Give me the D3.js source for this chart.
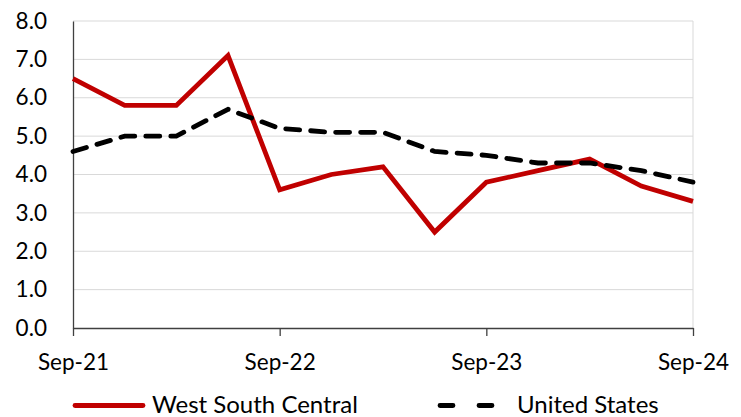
<!DOCTYPE html>
<html><head><meta charset="utf-8">
<script src="https://cdn.jsdelivr.net/npm/d3@7"></script>
<style>body{margin:0;background:#fff}svg{display:block}text{font-family:Lato,"Open Sans",sans-serif;fill:#000}</style>
</head><body><svg id="c" width="741" height="417"></svg>
<script>
const quarters = ["Sep-21","Dec-21","Mar-22","Jun-22","Sep-22","Dec-22","Mar-23","Jun-23","Sep-23","Dec-23","Mar-24","Jun-24","Sep-24"];
const westSouthCentral = [6.5,5.8,5.8,7.1,3.6,4.0,4.2,2.5,3.8,4.1,4.4,3.7,3.3];
const unitedStates = [4.6,5.0,5.0,5.7,5.2,5.1,5.1,4.6,4.5,4.3,4.3,4.1,3.8];
const xTickLabels = ["Sep-21","Sep-22","Sep-23","Sep-24"];
const yTicks = [0,1,2,3,4,5,6,7,8];

const svg = d3.select("#c");
const L=73,R=693,T=21,B=328;
const FS = 22.5;
const x = d3.scalePoint().domain(quarters).range([L,R]);
const y = d3.scaleLinear().domain([0,8]).range([B,T]);

// gridlines
svg.append("g").selectAll("line").data(yTicks.filter(d=>d>0)).join("line")
  .attr("x1",L).attr("x2",R).attr("y1",d=>y(d)).attr("y2",d=>y(d))
  .attr("stroke","#d9d9d9").attr("stroke-width",1);
svg.append("line").attr("x1",R).attr("x2",R).attr("y1",T).attr("y2",B).attr("stroke","#d9d9d9");

// y axis
const ya = svg.append("g").attr("transform",`translate(${L},0)`)
  .call(d3.axisLeft(y).tickValues(yTicks).tickFormat(d3.format(".1f")).tickSize(0).tickPadding(26));
ya.select(".domain").attr("stroke","#404040").attr("stroke-width",1.3);
ya.selectAll("text").style("font-size",FS+"px").attr("font-family","Lato,'Open Sans',sans-serif").attr("fill","#000");

// x axis
const xa = svg.append("g").attr("transform",`translate(0,${B})`)
  .call(d3.axisBottom(x).tickValues(xTickLabels).tickSizeInner(8).tickSizeOuter(0).tickPadding(18));
xa.select(".domain").attr("stroke","#404040").attr("stroke-width",1.3);
xa.selectAll(".tick line").attr("stroke","#404040").attr("stroke-width",1.3);
xa.selectAll("text").style("font-size",FS+"px").attr("font-family","Lato,'Open Sans',sans-serif").attr("fill","#000");

const line = d3.line().x((d,i)=>x(quarters[i])).y(d=>y(d));
svg.append("path").datum(westSouthCentral).attr("d",line).attr("fill","none")
  .attr("stroke","#c00000").attr("stroke-width",4.8).attr("stroke-linejoin","miter");
svg.append("path").datum(unitedStates).attr("d",line).attr("fill","none")
  .attr("stroke","#000").attr("stroke-width",4.8).attr("stroke-dasharray","14,11").attr("stroke-linecap","round");

// legend
const lg = svg.append("g");
lg.append("line").attr("x1",75).attr("x2",143).attr("y1",405.5).attr("y2",405.5).attr("stroke","#c00000").attr("stroke-width",4.8).attr("stroke-linecap","round");
lg.append("text").attr("x",152).attr("y",413).style("font-size","24px").text("West South Central");
lg.append("line").attr("x1",440).attr("x2",493).attr("y1",405.5).attr("y2",405.5).attr("stroke","#000").attr("stroke-width",4.8).attr("stroke-dasharray","13,26").attr("stroke-linecap","round");
lg.append("text").attr("x",517).attr("y",413).style("font-size","24px").text("United States");
</script></body></html>
